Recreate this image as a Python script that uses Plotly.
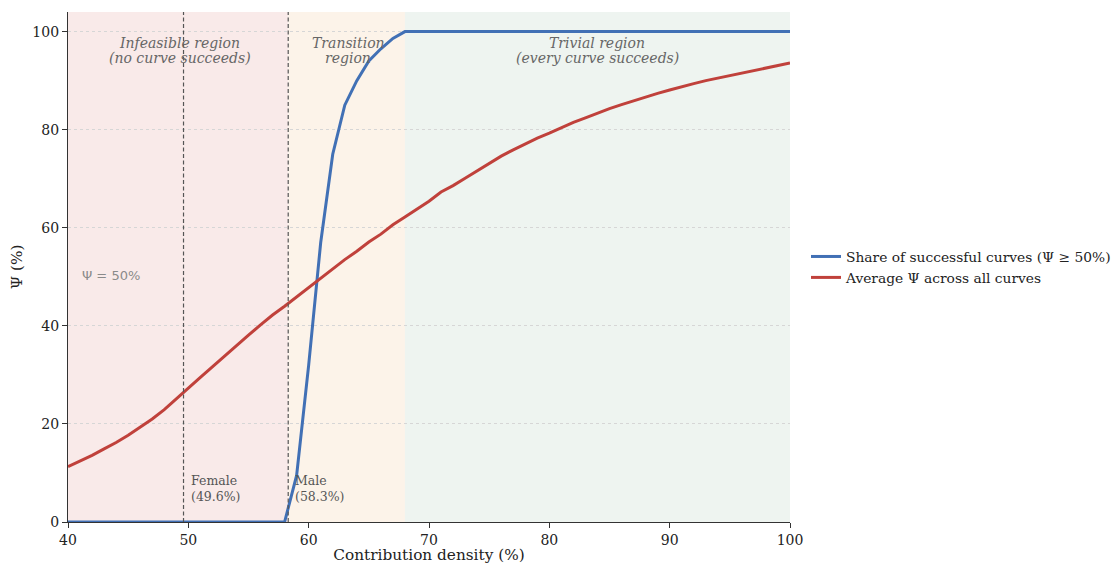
import plotly.graph_objects as go

density = list(range(40, 101))
share_success = [0]*19 + [9.5, 32, 57, 75, 85, 90, 94, 96.5, 98.6] + [100]*33
avg_psi = [11.3, 12.4, 13.6, 14.9, 16.2, 17.7, 19.3, 21.0, 22.9, 25.0,
           27.3, 29.5, 31.7, 33.9, 36.1, 38.1, 40.2, 42.2, 44.0, 45.9,
           47.7, 49.6, 51.5, 53.5, 55.2, 57.1, 58.7, 60.6, 62.2, 63.8,
           65.4, 67.3, 68.6, 70.1, 71.6, 73.1, 74.6, 75.9, 77.1, 78.3,
           79.3, 80.4, 81.5, 82.4, 83.4, 84.3, 85.1, 85.9, 86.7, 87.4,
           88.1, 88.8, 89.4, 90.0, 90.5, 91.1, 91.5, 92.0, 92.6, 93.0, 93.6]

regions = [(40, 58.3, "#f9eae9"), (58.3, 68, "#fcf3e9"), (68, 100, "#eef4f0")]
thresholds = [49.6, 58.3]
threshold_labels = [("Female", "(49.6%)"), ("Male", "(58.3%)")]
region_labels = [(49.3, "Infeasible region", "(no curve succeeds)"),
                 (63.3, "Transition", "region"),
                 (84.0, "Trivial region", "(every curve succeeds)")]

FONT = "DejaVu Serif"
fig = go.Figure()

shapes = []
for x0, x1, c in regions:
    shapes.append(dict(type="rect", xref="x", yref="paper", x0=x0, x1=x1, y0=0, y1=1,
                       fillcolor=c, line=dict(width=0), layer="below"))
for t in thresholds:
    shapes.append(dict(type="line", xref="x", yref="paper", x0=t, x1=t, y0=0, y1=1,
                       line=dict(color="#555555", width=1.2, dash="4px,2.5px"), layer="above"))

fig.add_trace(go.Scatter(x=density, y=share_success, mode="lines",
                         name="Share of successful curves (Ψ ≥ 50%)",
                         line=dict(color="#4170b5", width=3)))
fig.add_trace(go.Scatter(x=density, y=avg_psi, mode="lines",
                         name="Average Ψ across all curves",
                         line=dict(color="#c0413b", width=3)))

annotations = []
for x, l1, l2 in region_labels:
    for yy, txt in ((97.7, l1), (94.6, l2)):
        annotations.append(dict(x=x, y=yy, xref="x", yref="y", text=f"<i>{txt}</i>",
                                showarrow=False, font=dict(family=FONT, size=14, color="#666666"),
                                xanchor="center", yanchor="middle"))
for t, (l1, l2) in zip(thresholds, threshold_labels):
    for yy, txt in ((8.4, l1), (5.3, l2)):
        annotations.append(dict(x=t + 0.42, y=yy, xref="x", yref="y", text=txt,
                                showarrow=False, font=dict(family=FONT, size=12.5, color="#555555"),
                                xanchor="left", yanchor="middle", align="left"))
annotations.append(dict(x=41.0, y=50.2, xref="x", yref="y", text="Ψ = 50%",
                        showarrow=False, font=dict(family="DejaVu Sans", size=13, color="#8a8a8a"),
                        xanchor="left", yanchor="middle"))

fig.update_layout(
    width=1112, height=564,
    margin=dict(l=68, r=322, t=12, b=42),
    paper_bgcolor="white", plot_bgcolor="white",
    font=dict(family=FONT, size=13.5, color="#222222"),
    shapes=shapes, annotations=annotations,
    showlegend=True,
    legend=dict(xref="container", yref="container", x=0.7248, y=0.5266,
                xanchor="left", yanchor="middle",
                font=dict(family=FONT, size=13.8, color="#222222"),
                bgcolor="rgba(0,0,0,0)", tracegroupgap=2),
    xaxis=dict(range=[40, 100], tickvals=[40, 50, 60, 70, 80, 90, 100],
               showgrid=False, zeroline=False, showline=True, linecolor="#333333",
               linewidth=1.2, ticks="outside", ticklen=5, tickcolor="#333333",
               automargin=False,
               title=dict(text="Contribution density (%)", font=dict(family=FONT, size=15.3), standoff=5),
               tickfont=dict(family=FONT, size=14)),
    yaxis=dict(range=[0, 104], tickvals=[0, 20, 40, 60, 80, 100],
               showgrid=True, gridcolor="#d6d6d6", gridwidth=0.8, griddash="dot",
               zeroline=False, showline=True, linecolor="#333333", linewidth=1.2,
               ticks="outside", ticklen=5, tickcolor="#333333",
               automargin=False,
               title=dict(text="Ψ (%)", font=dict(family=FONT, size=15.3), standoff=6),
               tickfont=dict(family=FONT, size=14)),
)

fig.write_html("out.html", config={"displayModeBar": False},
               post_script="document.body.style.margin='0';document.body.style.overflow='hidden';")
